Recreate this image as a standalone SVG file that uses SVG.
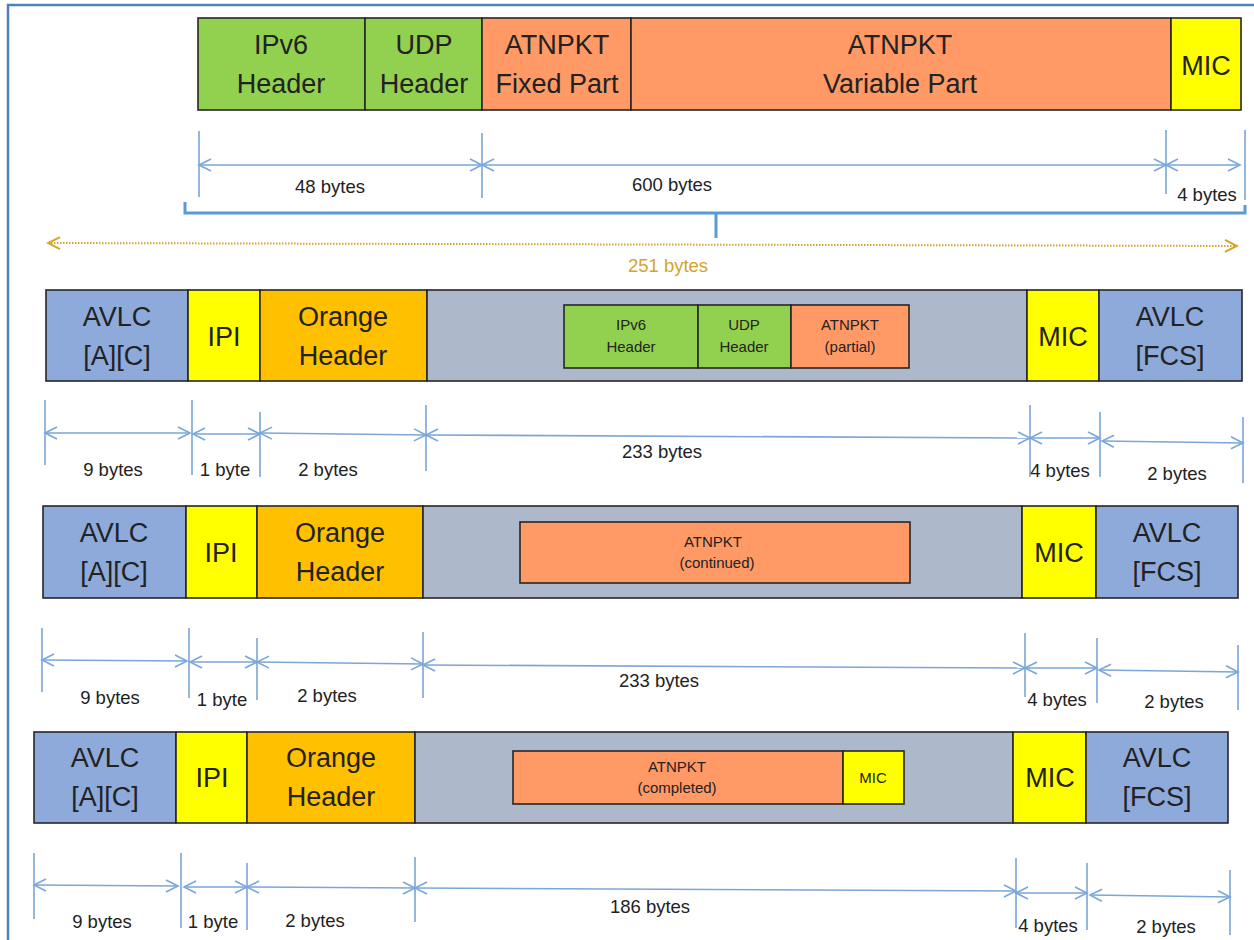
<svg xmlns="http://www.w3.org/2000/svg" width="1254" height="940" viewBox="0 0 1254 940">
<style>
.box{stroke:#262626;stroke-width:1.6}
.g{fill:#92d050}.o{fill:#ff9966}.y{fill:#ffff00}.b{fill:#8eaadb}.h{fill:#ffc000}.s{fill:#adb9ca}
.t{font-family:"Liberation Sans",Arial,sans-serif;font-size:27px;fill:#222;text-anchor:middle}
.ts{font-family:"Liberation Sans",Arial,sans-serif;font-size:15px;fill:#222;text-anchor:middle}
.d{font-family:"Liberation Sans",Arial,sans-serif;font-size:18.5px;fill:#222;text-anchor:middle}
.tick{stroke:#7aa6d9;stroke-width:1.6;fill:none}
.arr{stroke:#7aa6d9;stroke-width:1.6;fill:none;marker-start:url(#ah);marker-end:url(#ah)}
</style>
<defs>
<marker id="ah" viewBox="-14 -8 16 16" refX="0" refY="0" markerWidth="16" markerHeight="16" markerUnits="userSpaceOnUse" orient="auto-start-reverse"><path d="M-12,-6 L0,0 L-12,6" fill="none" stroke="#7aa6d9" stroke-width="1.6"/></marker>
<marker id="gh" viewBox="-14 -8 16 16" refX="0" refY="0" markerWidth="16" markerHeight="16" markerUnits="userSpaceOnUse" orient="auto-start-reverse"><path d="M-12,-6 L0,0 L-12,6" fill="none" stroke="#d4a52a" stroke-width="2"/></marker>
</defs>
<rect width="1254" height="940" fill="#fff"/>
<g id="frame"><path d="M8,940 V5 H1254" fill="none" stroke="#4f81bd" stroke-width="2.5"/></g>

<g id="top-row">
<rect class="box g" x="198" y="18" width="167" height="92"/>
<rect class="box g" x="365" y="18" width="117" height="92"/>
<rect class="box o" x="482" y="18" width="149" height="92"/>
<rect class="box o" x="631" y="18" width="540" height="92"/>
<rect class="box y" x="1171" y="18" width="70" height="92"/>
<text class="t" x="281" y="54">IPv6</text><text class="t" x="281" y="93">Header</text>
<text class="t" x="424" y="54">UDP</text><text class="t" x="424" y="93">Header</text>
<text class="t" x="557" y="54">ATNPKT</text><text class="t" x="557" y="93">Fixed Part</text>
<text class="t" x="900" y="54">ATNPKT</text><text class="t" x="900" y="93">Variable Part</text>
<text class="t" x="1206" y="75">MIC</text>
</g>

<g id="row1">
<rect class="box b" x="46" y="290" width="142" height="91"/>
<rect class="box y" x="188" y="290" width="72" height="91"/>
<rect class="box h" x="260" y="290" width="167" height="91"/>
<rect class="box s" x="427" y="290" width="600" height="91"/>
<rect class="box y" x="1027" y="290" width="72" height="91"/>
<rect class="box b" x="1099" y="290" width="143" height="91"/>
<rect class="box g" x="564" y="305" width="134" height="63"/>
<rect class="box g" x="698" y="305" width="93" height="63"/>
<rect class="box o" x="791" y="305" width="118" height="63"/>
<text class="t" x="117" y="326">AVLC</text><text class="t" x="117" y="365">[A][C]</text>
<text class="t" x="224" y="346">IPI</text>
<text class="t" x="343" y="326">Orange</text><text class="t" x="343" y="365">Header</text>
<text class="t" x="1063" y="346">MIC</text>
<text class="t" x="1170" y="326">AVLC</text><text class="t" x="1170" y="365">[FCS]</text>
<text class="ts" x="631" y="330">IPv6</text><text class="ts" x="631" y="352">Header</text>
<text class="ts" x="744" y="330">UDP</text><text class="ts" x="744" y="352">Header</text>
<text class="ts" x="850" y="330">ATNPKT</text><text class="ts" x="850" y="352">(partial)</text>
</g>

<g id="row2">
<rect class="box b" x="43" y="506" width="143" height="92"/>
<rect class="box y" x="186" y="506" width="71" height="92"/>
<rect class="box h" x="257" y="506" width="166" height="92"/>
<rect class="box s" x="423" y="506" width="599" height="92"/>
<rect class="box y" x="1022" y="506" width="74" height="92"/>
<rect class="box b" x="1096" y="506" width="142" height="92"/>
<rect class="box o" x="520" y="522" width="390" height="61"/>
<text class="t" x="114" y="542">AVLC</text><text class="t" x="114" y="581">[A][C]</text>
<text class="t" x="221" y="562">IPI</text>
<text class="t" x="340" y="542">Orange</text><text class="t" x="340" y="581">Header</text>
<text class="t" x="1059" y="562">MIC</text>
<text class="t" x="1167" y="542">AVLC</text><text class="t" x="1167" y="581">[FCS]</text>
<text class="ts" x="713" y="547">ATNPKT</text><text class="ts" x="717" y="568">(continued)</text>
</g>

<g id="row3">
<rect class="box b" x="34" y="732" width="142" height="91"/>
<rect class="box y" x="176" y="732" width="71" height="91"/>
<rect class="box h" x="247" y="732" width="168" height="91"/>
<rect class="box s" x="415" y="732" width="598" height="91"/>
<rect class="box y" x="1013" y="732" width="73" height="91"/>
<rect class="box b" x="1086" y="732" width="142" height="91"/>
<rect class="box o" x="513" y="751" width="330" height="53"/>
<rect class="box y" x="843" y="751" width="61" height="53"/>
<text class="t" x="105" y="767">AVLC</text><text class="t" x="105" y="806">[A][C]</text>
<text class="t" x="212" y="787">IPI</text>
<text class="t" x="331" y="767">Orange</text><text class="t" x="331" y="806">Header</text>
<text class="t" x="1050" y="787">MIC</text>
<text class="t" x="1157" y="767">AVLC</text><text class="t" x="1157" y="806">[FCS]</text>
<text class="ts" x="677" y="772">ATNPKT</text><text class="ts" x="677" y="793">(completed)</text>
<text class="ts" x="873" y="783">MIC</text>
</g>

<g id="connectors">
<path class="tick" d="M199,131V197 M482,133V198 M1166,130V194 M1245,130V200"/>
<line class="arr" x1="199" y1="165" x2="482" y2="165"/>
<line class="arr" x1="482" y1="165" x2="1166" y2="165"/>
<line class="arr" x1="1166" y1="165" x2="1240" y2="165"/>
<path d="M185,202V213H1245V205 M716,213V238" fill="none" stroke="#5b9bd5" stroke-width="3"/>
<line x1="48" y1="243" x2="1237" y2="246" stroke="#d4a52a" stroke-width="2" stroke-dasharray="1.5 1.5" marker-start="url(#gh)" marker-end="url(#gh)"/>
<path class="tick" d="M45,400V465 M192,400V475 M260,412V477 M426,405V471 M1030,405V477 M1100,412V477 M1243,417V483"/>
<line class="arr" x1="45" y1="433" x2="190" y2="433"/>
<line class="arr" x1="193" y1="434" x2="260" y2="434"/>
<line class="arr" x1="260" y1="433" x2="426" y2="435"/>
<line class="arr" x1="426" y1="435" x2="1030" y2="438"/>
<line class="arr" x1="1030" y1="438" x2="1100" y2="438"/>
<line class="arr" x1="1102" y1="441" x2="1243" y2="443"/>
<path class="tick" d="M42,628V692 M189,628V698 M257,638V700 M423,632V698 M1025,633V697 M1097,638V703 M1238,645V710"/>
<line class="arr" x1="42" y1="660" x2="187" y2="661"/>
<line class="arr" x1="190" y1="662" x2="257" y2="662"/>
<line class="arr" x1="257" y1="662" x2="423" y2="664"/>
<line class="arr" x1="423" y1="665" x2="1025" y2="668"/>
<line class="arr" x1="1025" y1="668" x2="1097" y2="668"/>
<line class="arr" x1="1099" y1="670" x2="1238" y2="672"/>
<path class="tick" d="M34,853V919 M181,853V928 M247,863V930 M415,857V922 M1016,858V928 M1087,863V930 M1230,870V935"/>
<line class="arr" x1="34" y1="885" x2="178" y2="886"/>
<line class="arr" x1="184" y1="887" x2="247" y2="887"/>
<line class="arr" x1="247" y1="887" x2="415" y2="888"/>
<line class="arr" x1="415" y1="888" x2="1016" y2="891"/>
<line class="arr" x1="1016" y1="893" x2="1087" y2="893"/>
<line class="arr" x1="1090" y1="895" x2="1230" y2="897"/>
</g>

<g id="labels">
<text class="d" x="330" y="193">48 bytes</text>
<text class="d" x="672" y="191">600 bytes</text>
<text class="d" x="1207" y="201">4 bytes</text>
<text class="d" x="668" y="272" style="fill:#d4a52a">251 bytes</text>
<text class="d" x="113" y="476">9 bytes</text>
<text class="d" x="225" y="476">1 byte</text>
<text class="d" x="328" y="476">2 bytes</text>
<text class="d" x="662" y="458">233 bytes</text>
<text class="d" x="1060" y="477">4 bytes</text>
<text class="d" x="1177" y="480">2 bytes</text>
<text class="d" x="110" y="704">9 bytes</text>
<text class="d" x="222" y="706">1 byte</text>
<text class="d" x="327" y="702">2 bytes</text>
<text class="d" x="659" y="687">233 bytes</text>
<text class="d" x="1057" y="706">4 bytes</text>
<text class="d" x="1174" y="708">2 bytes</text>
<text class="d" x="102" y="928">9 bytes</text>
<text class="d" x="213" y="928">1 byte</text>
<text class="d" x="315" y="927">2 bytes</text>
<text class="d" x="650" y="913">186 bytes</text>
<text class="d" x="1048" y="932">4 bytes</text>
<text class="d" x="1166" y="933">2 bytes</text>
</g>
</svg>
